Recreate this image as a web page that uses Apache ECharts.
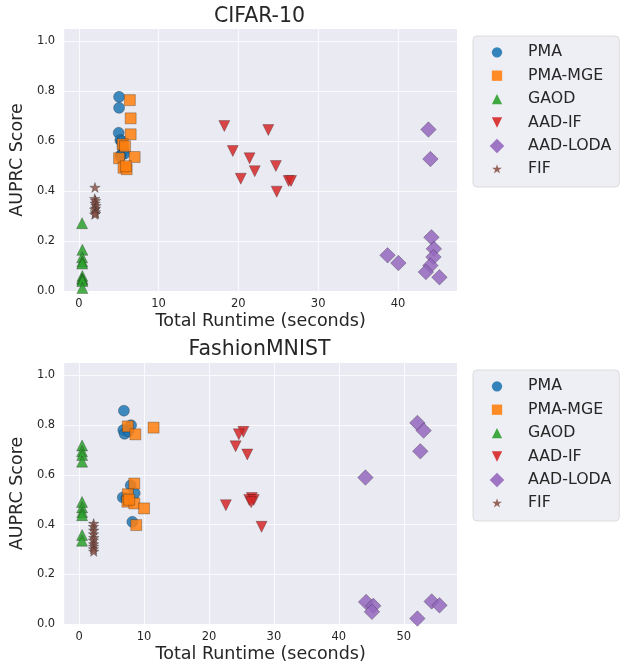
<!DOCTYPE html>
<html><head><meta charset="utf-8">
<script src="https://cdn.jsdelivr.net/npm/echarts@6/dist/echarts.min.js"></script>
<style>html,body{margin:0;padding:0;background:#fff}#c{width:629px;height:664px}</style>
</head><body><div id="c"></div><script>
// ---- data ----
const methods = ['PMA', 'PMA-MGE', 'GAOD', 'AAD-IF', 'AAD-LODA', 'FIF'];
const xTickLabels = ['0', '10', '20', '30', '40', '50'];
const yTickLabels = ['0.0', '0.2', '0.4', '0.6', '0.8', '1.0'];

// CIFAR-10
const cifarPMA_runtime   = [5.05, 5.05, 5.0, 5.2, 5.5, 5.3, 5.6, 5.4, 5.7, 5.2];
const cifarPMA_score     = [0.778, 0.734, 0.634, 0.605, 0.58, 0.545, 0.56, 0.60, 0.55, 0.54];
const cifarMGE_runtime   = [6.4, 6.5, 6.5, 5.5, 5.8, 7.0, 5.05, 5.6, 6.0, 5.9];
const cifarMGE_score     = [0.765, 0.692, 0.628, 0.588, 0.58, 0.537, 0.532, 0.494, 0.488, 0.50];
const cifarGAOD_runtime  = [0.41, 0.45, 0.42, 0.44, 0.43, 0.45, 0.42, 0.46, 0.44, 0.45];
const cifarGAOD_score    = [0.272, 0.165, 0.135, 0.118, 0.11, 0.06, 0.05, 0.045, 0.04, 0.012];
const cifarIF_runtime    = [18.24, 23.75, 19.3, 21.4, 24.7, 22.05, 20.3, 26.3, 26.6, 24.8];
const cifarIF_score      = [0.661, 0.645, 0.561, 0.532, 0.501, 0.48, 0.45, 0.441, 0.441, 0.398];
const cifarLODA_runtime  = [43.82, 44.07, 44.2, 44.5, 44.45, 44.07, 43.5, 45.2, 38.7, 40.05];
const cifarLODA_score    = [0.647, 0.529, 0.215, 0.169, 0.136, 0.102, 0.076, 0.055, 0.143, 0.112];
const cifarFIF_runtime   = [2.03, 2.0, 2.1, 2.05, 2.15, 2.1, 2.0, 2.08, 2.12, 2.0];
const cifarFIF_score     = [0.413, 0.368, 0.36, 0.35, 0.34, 0.33, 0.325, 0.315, 0.308, 0.305];

// FashionMNIST
const fmPMA_runtime  = [6.9, 8.0, 6.8, 7.0, 7.6, 7.95, 6.73, 8.56, 8.2, 7.3];
const fmPMA_score    = [0.858, 0.80, 0.78, 0.765, 0.775, 0.558, 0.509, 0.526, 0.411, 0.505];
const fmMGE_runtime  = [7.5, 8.66, 11.47, 8.5, 7.5, 7.44, 8.5, 10.0, 8.8, 7.7];
const fmMGE_score    = [0.795, 0.763, 0.79, 0.565, 0.522, 0.492, 0.485, 0.465, 0.398, 0.50];
const fmGAOD_runtime = [0.46, 0.45, 0.47, 0.46, 0.45, 0.46, 0.47, 0.45, 0.46, 0.44];
const fmGAOD_score   = [0.718, 0.695, 0.68, 0.653, 0.491, 0.469, 0.45, 0.438, 0.358, 0.335];
const fmIF_runtime   = [25.3, 24.6, 24.1, 25.9, 26.6, 26.2, 26.9, 26.5, 22.6, 28.1];
const fmIF_score     = [0.773, 0.763, 0.715, 0.682, 0.507, 0.499, 0.499, 0.49, 0.478, 0.391];
const fmLODA_runtime = [52.1, 53.06, 52.55, 44.1, 44.2, 45.3, 45.1, 54.3, 55.5, 52.1];
const fmLODA_score   = [0.809, 0.778, 0.695, 0.589, 0.089, 0.073, 0.049, 0.091, 0.075, 0.022];
const fmFIF_runtime  = [2.24, 2.2, 2.25, 2.22, 2.26, 2.2, 2.24, 2.23, 2.21, 2.25];
const fmFIF_score    = [0.402, 0.39, 0.375, 0.36, 0.345, 0.335, 0.32, 0.31, 0.30, 0.29];

const panelTitles = ['CIFAR-10', 'FashionMNIST'];

// ---- styling ----
const FONT = 'DejaVu Sans';
const TXT = '#262626';
const colors = ['#1f77b4', '#ff7f0e', '#2ca02c', '#d62728', '#9467bd', '#8c564b'];
const PAD = 'M0,0M16,16';
const symbols = [
  'path://' + PAD + 'M2.5,8A5.5,5.5,0,1,0,13.5,8A5.5,5.5,0,1,0,2.5,8Z',
  'path://' + PAD + 'M2.5,2.5L13.5,2.5L13.5,13.5L2.5,13.5Z',
  'path://' + PAD + 'M8,2.5L13.5,13.5L2.5,13.5Z',
  'path://' + PAD + 'M2.5,2.5L13.5,2.5L8,13.5Z',
  'path://' + PAD + 'M8,0.25L15.75,8L8,15.75L0.25,8Z',
  'path://' + PAD + 'M8,2.5L9.23,6.3L13.23,6.3L10,8.65L11.23,12.45L8,10.1L4.77,12.45L6,8.65L2.77,6.3L6.77,6.3Z'
];

const panels = [
  [[cifarPMA_runtime, cifarPMA_score], [cifarMGE_runtime, cifarMGE_score], [cifarGAOD_runtime, cifarGAOD_score],
   [cifarIF_runtime, cifarIF_score], [cifarLODA_runtime, cifarLODA_score], [cifarFIF_runtime, cifarFIF_score]],
  [[fmPMA_runtime, fmPMA_score], [fmMGE_runtime, fmMGE_score], [fmGAOD_runtime, fmGAOD_score],
   [fmIF_runtime, fmIF_score], [fmLODA_runtime, fmLODA_score], [fmFIF_runtime, fmFIF_score]]
];

const gridTop = [29, 363];
const gridH = 262;
const xMin = [-1.83, -2.3];
const xMax = [47.4, 58.2];

const zip = (a, b) => a.map((v, i) => [v, b[i]]);

const series = [];
panels.forEach((panel, p) => {
  panel.forEach((pair, m) => {
    series.push({
      type: 'scatter', name: methods[m], xAxisIndex: p, yAxisIndex: p,
      data: zip(pair[0], pair[1]),
      symbol: symbols[m], symbolSize: 16,
      itemStyle: { color: colors[m], opacity: 0.85, borderColor: 'rgba(20,20,20,0.55)', borderWidth: 0.6 },
      emphasis: { disabled: true }, silent: true
    });
  });
});

const xFmt = v => { const k = v / 10; if (Math.abs(k - Math.round(k)) < 1e-6) { const idx = Math.round(k); return xTickLabels[idx] !== undefined ? xTickLabels[idx] : ''; } return ''; };
const yFmt = v => { const k = v / 0.2; if (Math.abs(k - Math.round(k)) < 1e-6) { const idx = Math.round(k); return yTickLabels[idx] !== undefined ? yTickLabels[idx] : ''; } return ''; };

const GRIDLINE = { color: 'rgba(255,255,255,0.8)', width: 1 };

const option = {
  animation: false,
  textStyle: { fontFamily: FONT },
  grid: gridTop.map(t => ({ left: 62, top: t, width: 395, height: gridH, show: true, backgroundColor: '#EAEAF2', borderWidth: 0 })),
  xAxis: [0, 1].map(i => ({
    type: 'value', gridIndex: i, min: xMin[i], max: xMax[i], minInterval: 10, maxInterval: 10,
    axisLine: { show: false }, axisTick: { show: false },
    splitLine: { show: true, showMinLine: false, showMaxLine: false, lineStyle: GRIDLINE },
    axisLabel: { formatter: xFmt, margin: 7, fontSize: 11.5, color: TXT, fontFamily: FONT },
    name: 'Total Runtime (seconds)', nameLocation: 'middle', nameGap: 21,
    nameTextStyle: { fontSize: 17.5, color: TXT, fontFamily: FONT }
  })),
  yAxis: [0, 1].map(i => ({
    type: 'value', gridIndex: i, min: 0, max: 1.05, interval: 0.2,
    axisLine: { show: false }, axisTick: { show: false },
    splitLine: { show: true, showMinLine: false, showMaxLine: false, lineStyle: GRIDLINE },
    axisLabel: { formatter: yFmt, margin: 9, fontSize: 11.5, color: TXT, fontFamily: FONT },
    name: 'AUPRC Score', nameLocation: 'middle', nameGap: 31, nameRotate: 90,
    nameTextStyle: { fontSize: 17.5, color: TXT, fontFamily: FONT }
  })),
  legend: [36, 370].map(t => ({
    orient: 'vertical', left: 473, top: t, selectedMode: false,
    data: methods,
    itemWidth: 15, itemHeight: 15, itemGap: 5.4,
    padding: [7.3, 8, 8.7, 16.5],
    itemStyle: { borderWidth: 0, opacity: 0.9 },
    backgroundColor: '#EEEEF5', borderColor: '#DCDCDC', borderWidth: 1, borderRadius: 4,
    textStyle: { fontSize: 15.8, color: TXT, fontFamily: FONT, lineHeight: 18, padding: [0, 0, 0, 18.5] }
  })),
  graphic: panelTitles.map((t, i) => ({
    type: 'text', x: 259.5, y: [16.5, 350][i], silent: true,
    style: { text: t, fontSize: 20.5, fontFamily: FONT, fill: TXT, align: 'center', verticalAlign: 'middle' }
  })),
  series: series
};

const chart = echarts.init(document.getElementById('c'), null, { renderer: 'canvas' });
chart.setOption(option);
</script></body></html>
